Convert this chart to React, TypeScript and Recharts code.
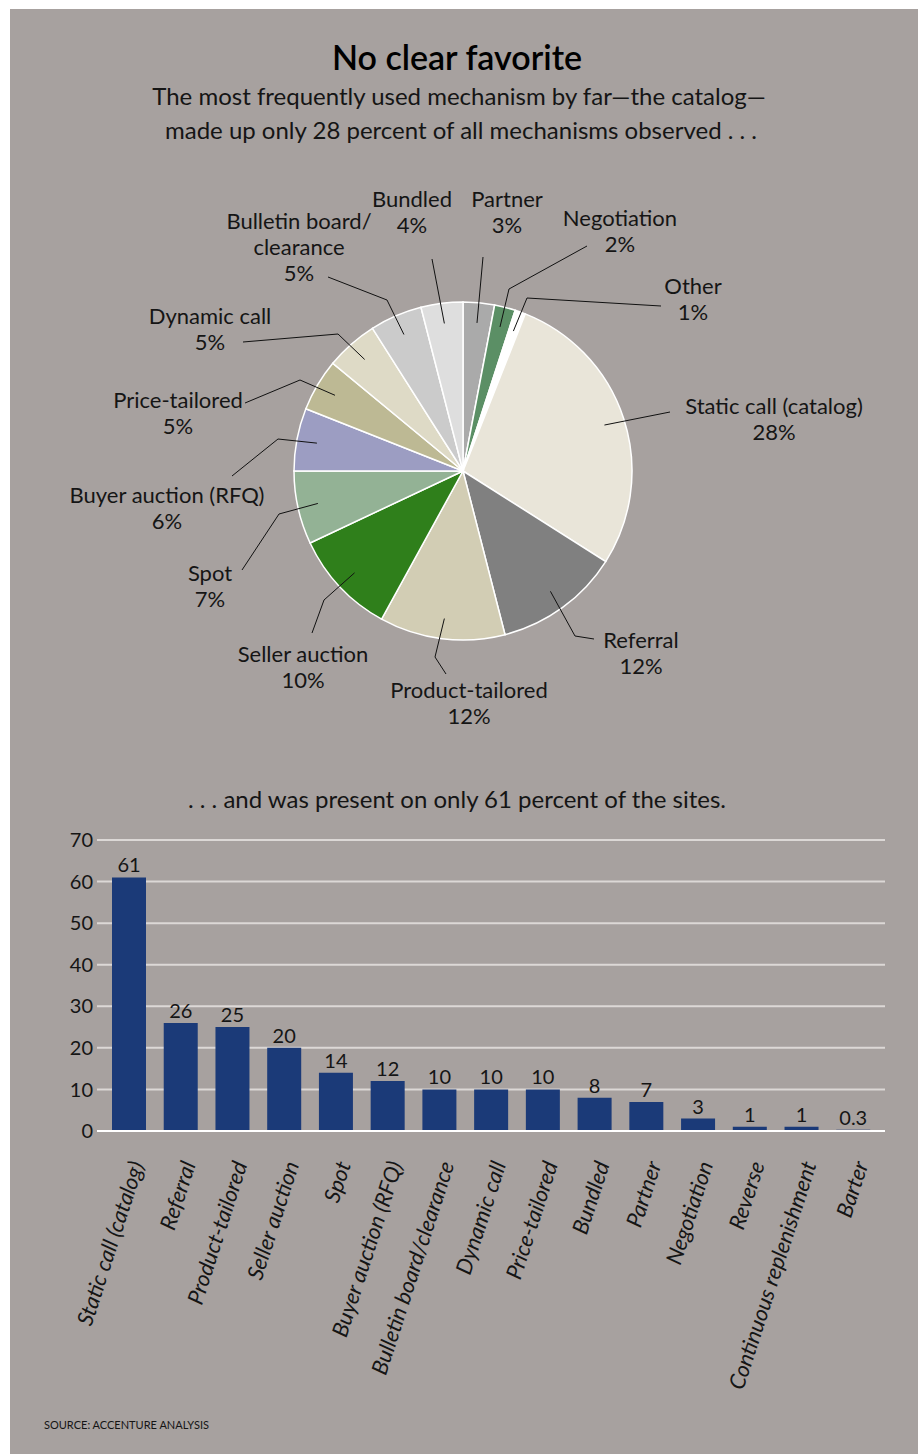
import { PieChart, Pie, Cell, BarChart, Bar, XAxis, YAxis, CartesianGrid, LabelList } from 'recharts'

// pie: share of all mechanisms observed, clockwise from 12 o'clock
const pieNames = [
  'Partner',
  'Negotiation',
  'Other',
  'Static call (catalog)',
  'Referral',
  'Product-tailored',
  'Seller auction',
  'Spot',
  'Buyer auction (RFQ)',
  'Price-tailored',
  'Dynamic call',
  'Bulletin board/clearance',
  'Bundled',
]
const pieLabelText = [
  ['Partner'],
  ['Negotiation'],
  ['Other'],
  ['Static call (catalog)'],
  ['Referral'],
  ['Product-tailored'],
  ['Seller auction'],
  ['Spot'],
  ['Buyer auction (RFQ)'],
  ['Price-tailored'],
  ['Dynamic call'],
  ['Bulletin board/', 'clearance'],
  ['Bundled'],
]
const pieShares = [3, 2, 1, 28, 12, 12, 10, 7, 6, 5, 5, 5, 4]
const pieColors = [
  '#aaaaaa', '#5b8f65', '#ffffff', '#e9e5d9', '#808080', '#d2cdb4', '#2f7f1b',
  '#93b295', '#9c9dc2', '#bdb994', '#dedac6', '#cbcbcb', '#dedede',
]

// bars: percent of sites where the mechanism was present
const barCategories = [
  'Static call (catalog)',
  'Referral',
  'Product-tailored',
  'Seller auction',
  'Spot',
  'Buyer auction (RFQ)',
  'Bulletin board/clearance',
  'Dynamic call',
  'Price-tailored',
  'Bundled',
  'Partner',
  'Negotiation',
  'Reverse',
  'Continuous replenishment',
  'Barter',
]
const barValues = [61, 26, 25, 20, 14, 12, 10, 10, 10, 8, 7, 3, 1, 1, 0.3]
const yTicks = [0, 10, 20, 30, 40, 50, 60, 70]

// leader line elbows / ends and label positions, offsets from the pie centre
const pieLabelLayout: Array<{ elbow?: number[]; end: number[]; text: number[] }> = [
  { end: [20, -214], text: [44, -272] },
  { elbow: [46, -182], end: [124, -225], text: [157, -253] },
  { elbow: [64, -173], end: [198, -165], text: [230, -185] },
  { end: [207, -59], text: [311, -65] },
  { elbow: [112, 165], end: [131, 168], text: [178, 169] },
  { elbow: [-28, 186], end: [-17, 203], text: [6, 219] },
  { elbow: [-139, 129], end: [-151, 162], text: [-160, 183] },
  { elbow: [-184, 43], end: [-221, 99], text: [-253, 102] },
  { elbow: [-185, -32], end: [-231, 5], text: [-296, 24] },
  { elbow: [-163, -91], end: [-218, -68], text: [-285, -71] },
  { elbow: [-125, -137], end: [-220, -129], text: [-253, -155] },
  { elbow: [-76, -171], end: [-135, -194], text: [-164, -250] },
  { end: [-31, -212], text: [-51, -272] },
]

const FONT = 'Lato, "Open Sans", sans-serif'
const INK = '#151515'
const RADIAN = Math.PI / 180

const pieData = pieNames.map((name, i) => ({ name, value: pieShares[i] }))
const barData = barCategories.map((name, i) => ({ name, value: barValues[i] }))

function renderPieLabel(props: any) {
  const { cx, cy, midAngle, outerRadius, index } = props
  const lay = pieLabelLayout[index]
  const r = outerRadius * 0.88
  const sx = cx + r * Math.cos(-midAngle * RADIAN)
  const sy = cy + r * Math.sin(-midAngle * RADIAN)
  const pts = [[sx, sy]]
  if (lay.elbow) pts.push([cx + lay.elbow[0], cy + lay.elbow[1]])
  pts.push([cx + lay.end[0], cy + lay.end[1]])
  const lines = [...pieLabelText[index], `${pieShares[index]}%`]
  const tx = cx + lay.text[0]
  const ty = cy + lay.text[1]
  return (
    <g key={`lbl-${index}`}>
      <polyline points={pts.map((p) => p.join(',')).join(' ')} fill="none" stroke="#111" strokeWidth={1} />
      <text x={tx} y={ty} textAnchor="middle" fontFamily={FONT} fontSize={22} fill={INK}>
        {lines.map((t, i) => (
          <tspan key={i} x={tx} y={ty + i * 26} dy="0.36em">
            {t}
          </tspan>
        ))}
      </text>
    </g>
  )
}

function SlantTick({ x, y, payload }: any) {
  return (
    <text
      x={0}
      y={0}
      transform={`translate(${x + 8},${y + 31}) rotate(-72)`}
      textAnchor="end"
      dy="0.35em"
      fontFamily={FONT}
      fontSize={22}
      fontStyle="italic"
      fill={INK}
    >
      {payload.value}
    </text>
  )
}

export default function App() {
  return (
    <div style={{ position: 'absolute', left: 0, top: 0, width: 920, height: 1454, background: '#fff', overflow: 'hidden' }}>
      <div style={{ position: 'absolute', left: 10, top: 9, width: 908, height: 1445, background: '#a7a19f' }} />

      <svg width={920} height={1454} style={{ position: 'absolute', left: 0, top: 0 }}>
        <text x={457} y={70} textAnchor="middle" fontFamily={FONT} fontSize={34} fontWeight={600} fill="#000">
          No clear favorite
        </text>
        <text x={459} y={105} textAnchor="middle" fontFamily={FONT} fontSize={24} fill={INK}>
          The most frequently used mechanism by far—the catalog—
        </text>
        <text x={461} y={139} textAnchor="middle" fontFamily={FONT} fontSize={24} fill={INK}>
          made up only 28 percent of all mechanisms observed . . .
        </text>
        <text x={457} y={808} textAnchor="middle" fontFamily={FONT} fontSize={24} fill={INK}>
          . . . and was present on only 61 percent of the sites.
        </text>
        <text x={44} y={1429} fontFamily={FONT} fontSize={11} fill={INK}>
          SOURCE: ACCENTURE ANALYSIS
        </text>
      </svg>

      <div style={{ position: 'absolute', left: 0, top: 0 }}>
        <PieChart width={920} height={760} margin={{ top: 0, right: 0, bottom: 0, left: 0 }}>
          <Pie
            data={pieData}
            dataKey="value"
            nameKey="name"
            cx={463}
            cy={471}
            innerRadius={0}
            outerRadius={169}
            startAngle={90}
            endAngle={-270}
            stroke="#ffffff"
            strokeWidth={1.5}
            label={renderPieLabel}
            labelLine={false}
            isAnimationActive={false}
          >
            {pieData.map((d, i) => (
              <Cell key={d.name} fill={pieColors[i]} />
            ))}
          </Pie>
        </PieChart>
      </div>

      <div style={{ position: 'absolute', left: 0, top: 820 }}>
        <BarChart width={920} height={620} data={barData} margin={{ top: 20, right: 35, left: 0, bottom: 0 }}>
          <CartesianGrid vertical={false} stroke="#dcd8d6" strokeWidth={2} />
          <XAxis
            dataKey="name"
            interval={0}
            height={309}
            padding={{ left: 6, right: 6 }}
            tickLine={false}
            tickSize={0}
            tickMargin={0}
            axisLine={{ stroke: '#ffffff', strokeWidth: 2 }}
            tick={<SlantTick />}
          />
          <YAxis
            width={97}
            domain={[0, 70]}
            ticks={yTicks}
            tickLine={false}
            axisLine={false}
            tickSize={0}
            tickMargin={4}
            tick={{ fontSize: 20, fill: INK, fontFamily: FONT }}
          />
          <Bar dataKey="value" fill="#1b3a78" barSize={34} isAnimationActive={false}>
            <LabelList dataKey="value" position="top" offset={5} fill={INK} fontSize={20} fontFamily={FONT} />
          </Bar>
        </BarChart>
      </div>
    </div>
  )
}
